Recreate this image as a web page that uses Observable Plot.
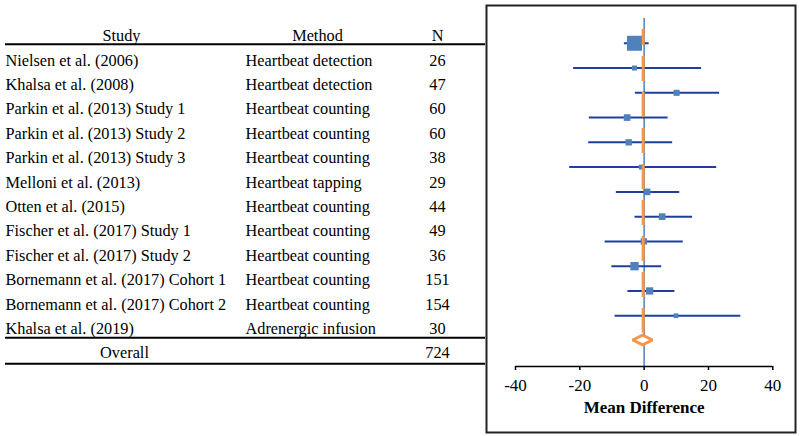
<!DOCTYPE html>
<html><head><meta charset="utf-8">
<script src="https://cdn.jsdelivr.net/npm/d3@7"></script>
<script src="https://cdn.jsdelivr.net/npm/@observablehq/plot@0.6"></script>
<style>
html,body{margin:0;padding:0;background:#fff;}
#wrap{position:relative;width:800px;height:436px;}
#wrap svg{position:absolute;left:0;top:0;}
#wrap svg, #wrap svg text{font-family:"Liberation Serif","Times New Roman",serif !important;}
</style></head><body><div id="wrap"></div>
<script>
// ---- data ----
const headers = ["Study", "Method", "N"];
const studies = ["Nielsen et al. (2006)", "Khalsa et al. (2008)", "Parkin et al. (2013) Study 1", "Parkin et al. (2013) Study 2", "Parkin et al. (2013) Study 3", "Melloni et al. (2013)", "Otten et al. (2015)", "Fischer et al. (2017) Study 1", "Fischer et al. (2017) Study 2", "Bornemann et al. (2017) Cohort 1", "Bornemann et al. (2017) Cohort 2", "Khalsa et al. (2019)"];
const methods = ["Heartbeat detection", "Heartbeat detection", "Heartbeat counting", "Heartbeat counting", "Heartbeat counting", "Heartbeat tapping", "Heartbeat counting", "Heartbeat counting", "Heartbeat counting", "Heartbeat counting", "Heartbeat counting", "Adrenergic infusion"];
const sampleN = [26, 47, 60, 60, 38, 29, 44, 49, 36, 151, 154, 30];
const meanDiff = [-3.0, -3.0, 10.1, -5.3, -4.8, -0.9, 0.9, 5.6, -0.1, -3.0, 1.7, 9.9];
const ciLow = [-6.3, -22.1, -2.9, -17.2, -17.4, -23.3, -8.8, -3.0, -12.3, -10.2, -5.2, -9.2];
const ciHigh = [1.4, 17.7, 23.3, 7.3, 8.7, 22.4, 10.9, 14.9, 12.0, 5.3, 9.4, 29.9];
const weights = [30.5, 3.4, 5.0, 6.0, 5.4, 3.3, 6.0, 6.0, 5.4, 9.4, 7.2, 3.0];
const overallLabel = "Overall";
const overallN = 724;
const overallMean = -0.3, overallLow = -3.4, overallHigh = 2.7;
const xTicks = [-40, -20, 0, 20, 40];
const axisTitle = "Mean Difference";

// ---- derived tables ----
const rows = studies.map((s, i) => ({row: i + 1, study: s, method: methods[i], n: sampleN[i], mean: meanDiff[i], lo: ciLow[i], hi: ciHigh[i], w: weights[i]}));
const overallRow = studies.length + 1;
const diamond = [
  {y: overallRow - 0.2, x1: overallMean, x2: overallMean},
  {y: overallRow, x1: overallLow, x2: overallHigh},
  {y: overallRow + 0.2, x1: overallMean, x2: overallMean}
];

const font = "Liberation Serif";
const blue = "#4F81BD", navy = "#1F3F9F", orange = "#F79646";

// ---- table (left) ----
const col = {studyLeft: 5, studyHead: 121, methodLeft: 245, methodHead: 317, n: 437};
const headerCells = headers.map((h, i) => ({label: h, x: [col.studyHead, col.methodHead, col.n][i]}));
const separators = [0.34, 12.37, 13.43];
const table = Plot.plot({
  width: 800, height: 436,
  marginTop: 35.5, marginBottom: 83.3, marginLeft: 0, marginRight: 0,
  x: {type: "identity", axis: null},
  y: {domain: [0, overallRow], reverse: true, axis: null},
  style: {fontFamily: font, fontSize: "16.3px", background: "none", color: "#000"},
  marks: [
    Plot.text(headerCells, {x: "x", y: () => 0, text: "label", fill: "#000"}),
    Plot.text(rows, {x: col.studyLeft, y: "row", text: "study", textAnchor: "start", fill: "#000"}),
    Plot.text(rows, {x: col.methodLeft, y: "row", text: "method", textAnchor: "start", fill: "#000"}),
    Plot.text(rows, {x: col.n, y: "row", text: "n", fill: "#000"}),
    Plot.text([overallLabel], {x: 124, y: () => overallRow, text: d => d, fill: "#000"}),
    Plot.text([overallN], {x: col.n, y: () => overallRow, text: d => d, fill: "#000"}),
    Plot.ruleY(separators, {x1: 5, x2: 485, stroke: "#000", strokeWidth: 2})
  ]
});

// ---- forest plot (right) ----
const yMax = 14.05;
const forest = Plot.plot({
  width: 800, height: 436,
  marginLeft: 515, marginRight: 27.7, marginTop: 18, marginBottom: 70,
  x: {domain: [-40, 40]},
  y: {domain: [0, yMax], reverse: true, axis: null},
  r: {type: "sqrt", domain: [0, d3.max(weights)], range: [0, 8.46]},
  style: {fontFamily: font, fontSize: "17px", background: "none", color: "#000", overflow: "visible"},
  marks: [
    Plot.frame({stroke: "#222", strokeWidth: 2, insetLeft: -29, insetRight: -22.7, insetTop: -13, insetBottom: -66}),
    Plot.ruleX([0], {stroke: blue, strokeWidth: 1.5}),
    Plot.link(rows, {x1: "lo", x2: "hi", y1: "row", y2: "row", stroke: navy, strokeWidth: 2}),
    Plot.dot(rows, {x: "mean", y: "row", r: "w", symbol: "square", fill: blue, stroke: "none"}),
    Plot.ruleX([overallMean], {y1: 1 - 0.555, y2: overallRow - 0.3, stroke: orange, strokeWidth: 3, strokeDasharray: "25,11", strokeDashoffset: 9}),
    Plot.areaX(diamond, {y: "y", x1: "x1", x2: "x2", fill: "white", stroke: orange, strokeWidth: 3, strokeLinejoin: "miter"}),
    Plot.ruleY([yMax], {stroke: "#000", strokeWidth: 1.5}),
    Plot.axisX({ticks: xTicks, tickSize: 4, tickPadding: 8, tickFormat: d => String(d), fontSize: 17, label: null, stroke: "#000", strokeWidth: 1.5}),
    Plot.text([axisTitle], {frameAnchor: "bottom", lineAnchor: "middle", dy: 41, fontWeight: "bold", fontSize: 17, fill: "#000"})
  ]
});

const wrap = document.getElementById("wrap");
wrap.appendChild(table);
wrap.appendChild(forest);
</script>
</body></html>
